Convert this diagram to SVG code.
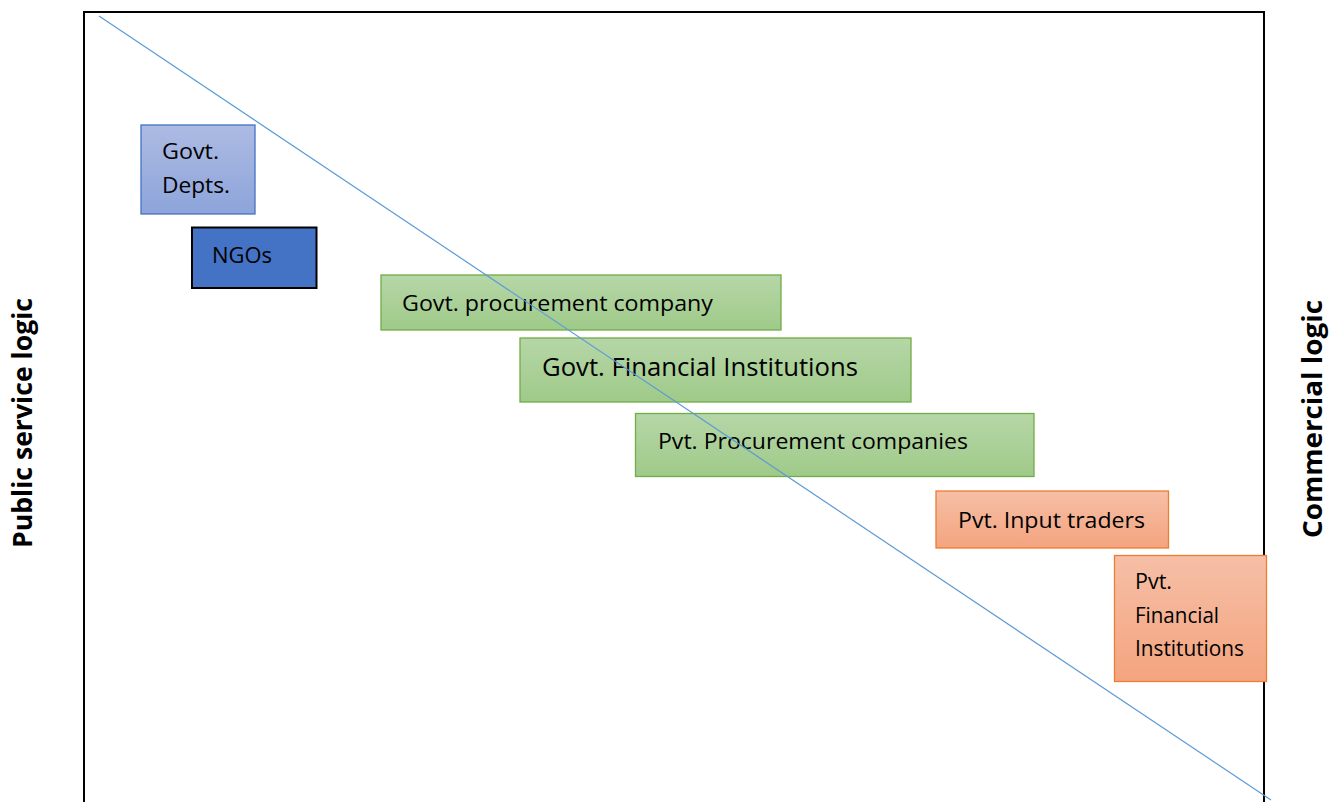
<svg xmlns="http://www.w3.org/2000/svg" width="1334" height="802" viewBox="0 0 1334 802">
  <defs>
    <linearGradient id="gBlue" x1="0" y1="0" x2="0" y2="1">
      <stop offset="0" stop-color="#adbbe3"/>
      <stop offset="1" stop-color="#8da4da"/>
    </linearGradient>
    <linearGradient id="gGreen" x1="0" y1="0" x2="0" y2="1">
      <stop offset="0" stop-color="#b6d6a7"/>
      <stop offset="1" stop-color="#9fca89"/>
    </linearGradient>
    <linearGradient id="gOrange" x1="0" y1="0" x2="0" y2="1">
      <stop offset="0" stop-color="#f6bfa6"/>
      <stop offset="1" stop-color="#f4a47f"/>
    </linearGradient>
  </defs>
  <style>
    text { font-family: "Open Sans", "Noto Sans", "Liberation Sans", sans-serif; fill: #000; }
    .lbl { font-size: 22px; }
    .big { font-size: 25px; }
    .axis { font-size: 26px; font-weight: bold; }
    .blue { fill: url(#gBlue); stroke: #4472c4; stroke-width: 1.3; }
    .ngo { fill: #4472c4; stroke: #000; stroke-width: 2; }
    .green { fill: url(#gGreen); stroke: #70ad47; stroke-width: 1.3; }
    .orange { fill: url(#gOrange); stroke: #ed7d31; stroke-width: 1.3; }
  </style>

  <rect width="1334" height="802" fill="#fff"/>

  <!-- frame -->
  <g id="frame">
    <path d="M84,802 V12 H1264 V802" fill="none" stroke="#000" stroke-width="2"/>
  </g>

  <!-- side labels -->
  <g id="label-public">
    <text class="axis" transform="translate(32,423) rotate(-90)" text-anchor="middle" textLength="250" lengthAdjust="spacingAndGlyphs">Public service logic</text>
  </g>
  <g id="label-commercial">
    <text class="axis" transform="translate(1322,419) rotate(-90)" text-anchor="middle" textLength="238" lengthAdjust="spacingAndGlyphs">Commercial logic</text>
  </g>

  <!-- organisation boxes -->
  <g id="govt-depts">
    <rect class="blue" x="141" y="125" width="114" height="89"/>
    <text class="lbl" x="162" y="159" textLength="57" lengthAdjust="spacingAndGlyphs">Govt.</text>
    <text class="lbl" x="162" y="193" textLength="68" lengthAdjust="spacingAndGlyphs">Depts.</text>
  </g>
  <g id="ngos">
    <rect class="ngo" x="192" y="227.5" width="124.5" height="60.5"/>
    <text class="lbl" x="212" y="263" textLength="60" lengthAdjust="spacingAndGlyphs">NGOs</text>
  </g>
  <g id="govt-procurement">
    <rect class="green" x="381" y="275" width="400" height="55"/>
    <text class="lbl" x="402" y="311" textLength="311" lengthAdjust="spacingAndGlyphs">Govt. procurement company</text>
  </g>
  <g id="govt-financial">
    <rect class="green" x="520" y="338" width="391" height="64"/>
    <text class="big" x="542" y="376" textLength="316" lengthAdjust="spacingAndGlyphs">Govt. Financial Institutions</text>
  </g>
  <g id="pvt-procurement">
    <rect class="green" x="635.5" y="413.5" width="398.5" height="63"/>
    <text class="lbl" x="658" y="449" textLength="310" lengthAdjust="spacingAndGlyphs">Pvt. Procurement companies</text>
  </g>
  <g id="pvt-input">
    <rect class="orange" x="936" y="491" width="232.5" height="57"/>
    <text class="lbl" x="958" y="528" textLength="187" lengthAdjust="spacingAndGlyphs">Pvt. Input traders</text>
  </g>
  <g id="pvt-financial">
    <rect class="orange" x="1114.5" y="555.5" width="152" height="126"/>
    <text class="lbl" x="1135" y="589" textLength="37" lengthAdjust="spacingAndGlyphs">Pvt.</text>
    <text class="lbl" x="1135" y="623" textLength="84" lengthAdjust="spacingAndGlyphs">Financial</text>
    <text class="lbl" x="1135" y="656" textLength="109" lengthAdjust="spacingAndGlyphs">Institutions</text>
  </g>

  <!-- diagonal divide between the two logics -->
  <g id="connectors">
    <line x1="99" y1="16" x2="1271" y2="800" stroke="#5b9bd5" stroke-width="1.2"/>
  </g>
</svg>
